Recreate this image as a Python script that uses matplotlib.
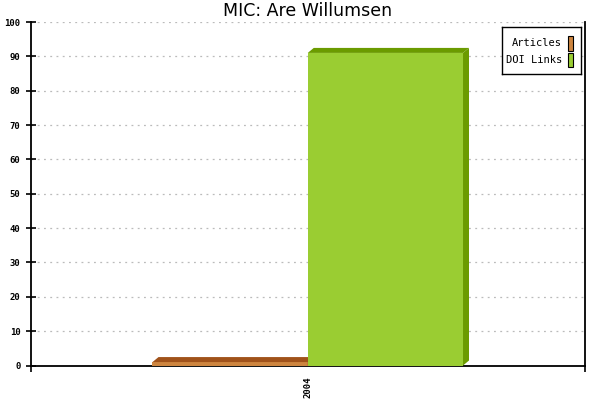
import matplotlib
matplotlib.use("Agg")
import matplotlib.pyplot as plt
from matplotlib.patches import Polygon, Rectangle

# data
years = ["2004"]
series_names = ["Articles", "DOI Links"]
articles = [1]
doi_links = [91]

front_colors = ["#cd853f", "#9acd32"]
shade_colors = ["#a0521a", "#6b9b00"]

W, H, DPI = 600, 400, 100
fig = plt.figure(figsize=(W / DPI, H / DPI), dpi=DPI)
ax = fig.add_axes([30.5 / W, 34.5 / H, 554.5 / W, 343.5 / H])

ax.set_xlim(-0.5, 0.5)
ax.set_ylim(0, 100)

# 3d depth offsets, given in pixels and turned into data units
dx_px, dy_px = 6, 5
dx = dx_px * 1.0 / 554.5
dy = dy_px * 100.0 / 343.5

bar_w = 0.28
n = len(series_names)
values = [articles, doi_links]
for s in range(n):
    for i, v in enumerate(values[s]):
        x0 = i - bar_w * n / 2 + s * bar_w
        x1 = x0 + bar_w
        # front face
        ax.add_patch(Rectangle((x0, 0), bar_w, v, facecolor=front_colors[s],
                               edgecolor="none", zorder=3))
        # top face
        ax.add_patch(Polygon([(x0, v), (x1, v), (x1 + dx, v + dy), (x0 + dx, v + dy)],
                             closed=True, facecolor=shade_colors[s],
                             edgecolor="none", zorder=3))
        # side face
        ax.add_patch(Polygon([(x1, 0), (x1 + dx, dy), (x1 + dx, v + dy), (x1, v)],
                             closed=True, facecolor=shade_colors[s],
                             edgecolor="none", zorder=3))

ax.set_yticks(range(0, 101, 10))
ax.yaxis.grid(True, color="#bbbbbb", linewidth=0.9, linestyle=(0, (1.5, 3.5)))
ax.set_axisbelow(True)

mono = "DejaVu Sans Mono"
ax.tick_params(axis="y", direction="inout", length=6.5, width=1.2, pad=4,
               labelsize=6.5, labelfontfamily=mono)
for lbl in ax.get_yticklabels():
    lbl.set_fontweight("bold")
ax.set_xticks(range(len(years)))
ax.set_xticklabels(years, rotation=90, fontsize=6.5, family=mono,
                   fontweight="bold")
ax.tick_params(axis="x", length=0, pad=8)
ax.set_xticks([-0.5, 0.5], minor=True)
ax.tick_params(axis="x", which="minor", direction="out", length=4, width=1.2)

for side in ["left", "bottom", "right"]:
    ax.spines[side].set_linewidth(1.3)
ax.spines["top"].set_visible(False)

ax.set_title("MIC: Are Willumsen", fontsize=12.5, pad=4)

# legend: right-aligned labels with swatches on the right
leg = fig.add_axes([502 / W, 1 - 74 / H, 79 / W, 47 / H])
leg.set_xlim(0, 79)
leg.set_ylim(47, 0)
leg.set_xticks([])
leg.set_yticks([])
for sp in leg.spines.values():
    sp.set_linewidth(1.0)
for k, name in enumerate(series_names):
    yc = 16 + k * 17
    leg.text(60, yc, name, ha="right", va="center", fontsize=7.5, family=mono)
    leg.add_patch(Rectangle((65.5, yc - 7.5), 5.5, 15, facecolor=front_colors[k],
                            edgecolor="black", linewidth=0.8))

fig.savefig("out.png", dpi=DPI)
